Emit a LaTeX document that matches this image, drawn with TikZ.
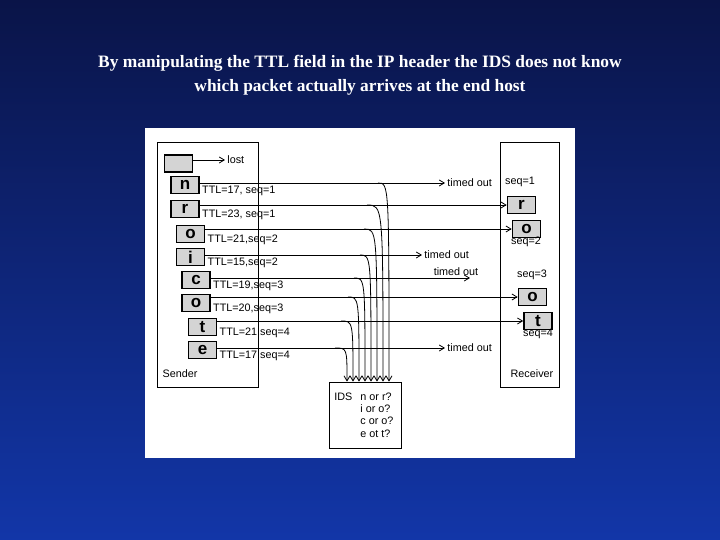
\documentclass[tikz,border=0pt]{standalone}
\usepackage{fontspec}
\setmainfont{Liberation Serif}
\newfontfamily\diagfont{Liberation Sans}
\usetikzlibrary{arrows.meta, positioning}
\definecolor{bgtop}{HTML}{0A1448}
\definecolor{bgbot}{HTML}{1236A8}
\definecolor{pktgray}{HTML}{D4D4D4}
\tikzset{>={Straight Barb[length=2.5pt,width=3pt]}, font=\diagfont\fontsize{5.4}{6.2}\selectfont}
\tikzset{pkt/.style={draw, thick, fill=pktgray, minimum width=14pt, minimum height=8.5pt,
    inner sep=0pt, font=\diagfont\bfseries\fontsize{8.5}{8}\selectfont},
  host/.style={draw, thin, fill=white, inner sep=0pt},
  msg/.style={->, thin},
  tap/.style={->, thin},
  ttl/.style={anchor=west, inner sep=1pt, yshift=-3pt}}

\begin{document}
\begin{tikzpicture}[x=0.5pt, y=-0.5pt]
  \useasboundingbox (0,0) rectangle (720,540);
  \shade[top color=bgtop, bottom color=bgbot] (0,0) rectangle (720,540);
  \node[text=white, font=\fontsize{8.7}{12}\selectfont\bfseries, align=center] (title) at (360,75)
    {By manipulating the TTL field in the IP header the IDS does not know\\
     which packet actually arrives at the end host};
  \fill[white] (145,128) rectangle (575,458);
  % hosts
  \node[host, minimum width=50.5pt, minimum height=122.5pt] (sender) at (207.5,264.5) {};
  \node[host, minimum width=29.5pt, minimum height=122.5pt] (receiver) at (529.5,264.5) {};
  \node[host, minimum width=36pt, minimum height=33pt] (ids) at (365,415) {};
  \node (sname) at (180,374) {Sender};
  \node (rname) at (532,374) {Receiver};
  \node[anchor=north west, inner sep=0pt, align=left] (idstxt) at (334,391)
    {IDS\hspace{4pt}\begin{tabular}[t]{@{}l@{}}n or r?\\i or o?\\c or o?\\e ot t?\end{tabular}};
  % sender packets
  \node[pkt] (p0) at (178.5,163.5) {};
  \node[pkt] (p1) at (185,185) {n};
  \node[pkt] (p2) at (185,209) {r};
  \node[pkt] (p3) at (190.5,234) {o};
  \node[pkt] (p4) at (190.5,257) {i};
  \node[pkt] (p5) at (196,280) {c};
  \node[pkt] (p6) at (196,303) {o};
  \node[pkt] (p7) at (202.5,327) {t};
  \node[pkt] (p8) at (202.5,350) {e};
  % receiver packets
  \node[pkt] (r2) at (521.5,205) {r};
  \node[pkt] (r3) at (526.5,229) {o};
  \node[pkt] (r6) at (532.5,297) {o};
  \node[pkt] (r7) at (538,321) {t};
  \node (s1) at (520,182) {seq=1};
  \node (s2) at (526,242) {seq=2};
  \node (s3) at (532,275) {seq=3};
  \node (s4) at (538,334) {seq=4};
  % end points
  \node[anchor=west, inner sep=1pt] (lost) at (225,160) {lost};
  \node[anchor=west, inner sep=1pt] (to1) at (445,183) {timed out};
  \node[anchor=west, inner sep=1pt] (to4) at (422,255) {timed out};
  \coordinate (c5) at (470,278);
  \node[above=0pt of c5, xshift=-7pt, inner sep=1pt] (to5) {timed out};
  \node[anchor=west, inner sep=1pt] (to8) at (445,348) {timed out};
  % messages
  \draw[msg] (p0.east |- lost) -- (lost.west);
  \draw[msg] (p1.east |- to1) -- (to1.west);
  \draw[msg] (p2.east |- r2) -- (r2.west);
  \draw[msg] (p3.east |- r3) -- (r3.west);
  \draw[msg] (p4.east |- to4) -- (to4.west);
  \draw[msg] (p5.east |- c5) -- (c5);
  \draw[msg] (p6.east |- r6) -- (r6.west);
  \draw[msg] (p7.east |- r7) -- (r7.west);
  \draw[msg] (p8.east |- to8) -- (to8.west);
  % TTL labels
  \node[ttl] at (p1.east) {TTL=17, seq=1};
  \node[ttl] at (p2.east) {TTL=23, seq=1};
  \node[ttl] at (p3.east) {TTL=21,seq=2};
  \node[ttl] at (p4.east) {TTL=15,seq=2};
  \node[ttl] at (p5.east) {TTL=19,seq=3};
  \node[ttl] at (p6.east) {TTL=20,seq=3};
  \node[ttl] at (p7.east) {TTL=21,seq=4};
  \node[ttl] at (p8.east) {TTL=17,seq=4};
  % copies seen by the IDS
  \foreach \p/\xa/\xb in {1/378/389, 2/367/383, 3/364/377, 4/360/371,
                         5/354/365, 6/348/359, 7/341/353, 8/335/347} {
    \coordinate (b\p) at (\xa,0 |- to1);
    \coordinate (e\p) at (\xb,0 |- ids.north);
  }
  \foreach \p/\t in {1/to1, 2/r2, 3/r3, 4/to4, 5/c5, 6/r6, 7/r7, 8/to8} {
    \draw[tap] (b\p |- \t) .. controls (e\p |- \t) .. (e\p);
  }
\end{tikzpicture}
\end{document}
